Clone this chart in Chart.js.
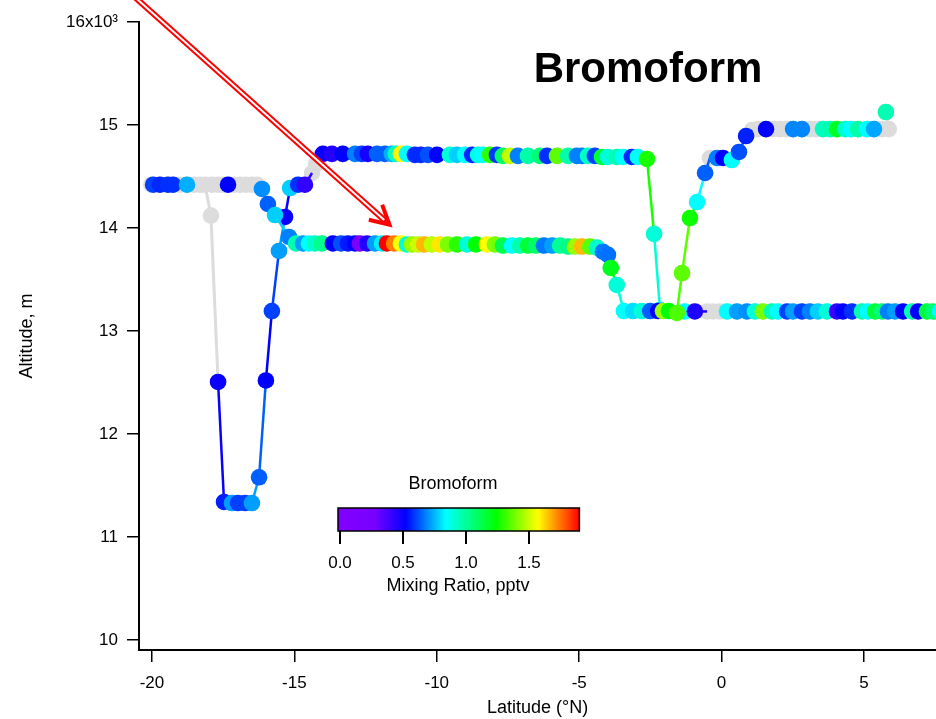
<!DOCTYPE html>
<html>
<head>
<meta charset="utf-8">
<title>Bromoform</title>
<script src="https://cdn.jsdelivr.net/npm/chart.js@4.4.1/dist/chart.umd.min.js"></script>
<style>
  html, body { margin: 0; padding: 0; background: #fff; }
  canvas { display: block; }
</style>
</head>
<body>
<canvas id="chart" width="936" height="719"></canvas>
<script>
const FONT = '"Liberation Sans", Arial, Helvetica, sans-serif';
const GRAY = '#dcdcdc';
const CLEAR = 'rgba(0,0,0,0)';

const xTickValues = [-20, -15, -10, -5, 0, 5];
const yTickValues = [10000, 11000, 12000, 13000, 14000, 15000, 16000];

// flight A: 14.4 km leg, dive to 11.3 km, 14.7 km leg, drop to 13.2 km
const latA = [
  -20.02, -19.96, -19.72, -19.44, -19.26, -19.02, -18.77, -18.53, -18.31, -18.14,
  -17.93, -17.68, -17.47, -17.19, -16.98, -16.73, -16.49, -16.24, -16.00, -15.79,
  -15.54, -15.33, -15.15, -14.87, -14.63, -14.38, -14.24, -14.10,
  -14.00, -13.68, -13.30, -12.87, -12.63, -12.42, -12.10, -11.82, -11.58, -11.44,
  -11.26, -11.05, -10.77, -10.56, -10.31, -9.99, -9.54, -9.29, -9.01, -8.76,
  -8.55, -8.38, -8.13, -7.89, -7.68, -7.43, -7.15, -6.80, -6.38, -6.13,
  -5.78, -5.39, -5.08, -4.90, -4.69, -4.45, -4.20, -3.99, -3.68, -3.46,
  -3.15, -2.94, -2.62,
  -2.37, -2.16,
  -1.29, -0.94, -0.51, -0.30, -0.06, 0.19, 0.54, 0.89, 1.17, 1.45,
  1.77, 1.98, 2.30, 2.51, 2.82, 3.10, 3.38, 3.70, 4.05, 4.26,
  4.58, 4.93, 5.14, 5.39, 5.63, 5.84, 6.09, 6.37, 6.69, 6.90,
  7.21, 7.42, 7.67
];
const altA = [
  14420, 14420, 14420, 14420, 14420, 14420, 14420, 14420, 14420, 14420,
  14120, 12505, 11340, 11330, 11330, 11330, 11330, 11580, 12520, 13194,
  13777, 14107, 14388, 14420, 14420, 14534, 14621, 14690,
  14720, 14720, 14720, 14720, 14720, 14720, 14720, 14720, 14720, 14720,
  14720, 14720, 14710, 14710, 14710, 14710, 14710, 14710, 14710, 14710,
  14710, 14710, 14710, 14710, 14700, 14700, 14700, 14700, 14700, 14700,
  14700, 14700, 14700, 14700, 14700, 14700, 14690, 14690, 14690, 14690,
  14690, 14690, 14670,
  13942, 13204,
  13190, 13190, 13190, 13190, 13190, 13190, 13190, 13190, 13190, 13190,
  13190, 13190, 13190, 13190, 13190, 13190, 13190, 13190, 13190, 13190,
  13190, 13190, 13190, 13190, 13190, 13190, 13190, 13190, 13190, 13190,
  13190, 13190, 13190
];
const bromoA = [
  null, 0.60, 0.57, 0.58, 0.58, null, 0.74, null, null, null,
  null, 0.50, 0.56, 0.72, 0.60, 0.60, 0.72, 0.64, 0.52, 0.60,
  0.72, 0.50, 0.78, 0.58, 0.42, null, null, null,
  0.50, 0.45, 0.52, 0.68, 0.60, 0.48, 0.64, 0.64, 0.74, 0.94,
  1.58, 0.84, 0.57, 0.57, 0.62, 0.52, 0.90, 0.78, 0.84, 0.57,
  0.88, 0.84, 1.30, 0.59, 1.08, 1.49, 0.68, 0.98, 1.06, 0.58,
  1.36, 0.98, 0.68, 0.68, 0.93, 0.60, 1.15, 0.90, 0.96, 0.84,
  0.57, 0.84, 1.27,
  0.90, 0.80,
  0.84, 0.46, null, null, null, 0.84, 0.72, 0.70, 0.90, 1.40,
  0.96, 0.84, 0.60, 0.72, 0.60, 0.68, 0.78, 0.90, 0.40, 0.52,
  0.58, 0.96, 0.84, 1.15, 1.06, 0.68, 0.72, 0.52, 0.96, 0.52,
  1.15, 1.06, 0.84
];

// flight B: 14.4 km, down to 13.8 km leg, 13.2 km, climb to 15 km
const latB = [
  -17.89, -17.68, -17.51, -17.33, -17.12, -16.91, -16.70, -16.49, -16.31,
  -16.14, -15.93, -15.68, -15.19,
  -14.94, -14.70, -14.49, -14.28, -14.03, -13.65, -13.36, -13.12, -12.87, -12.70,
  -12.45, -12.17, -11.92, -11.75, -11.50, -11.26, -11.05, -10.87, -10.66, -10.45,
  -10.17, -9.89, -9.61, -9.29, -8.94, -8.62, -8.24, -7.96, -7.68, -7.36,
  -7.08, -6.80, -6.52, -6.24, -5.95, -5.67, -5.39, -5.15, -4.90, -4.62,
  -4.38, -4.17, -3.99,
  -3.89, -3.68,
  -3.43, -3.11, -2.80, -2.51, -2.23, -2.06, -1.85, -1.57,
  -1.39, -1.11, -0.86, -0.58, -0.41, -0.16, 0.05, 0.36, 0.61, 0.86,
  1.07, 1.28, 1.56, 1.81, 2.05, 2.26, 2.51, 2.82, 3.10, 3.31,
  3.56, 3.81, 4.05, 4.34, 4.54, 4.79, 5.10, 5.35, 5.63, 5.87,
  5.77
];
const altB = [
  14420, 14420, 14420, 14420, 14420, 14420, 14420, 14420, 14420,
  14379, 14233, 14126, 13913,
  13850, 13850, 13850, 13850, 13850, 13850, 13850, 13850, 13850, 13850,
  13850, 13850, 13850, 13850, 13850, 13850, 13840, 13840, 13840, 13840,
  13840, 13840, 13840, 13840, 13840, 13840, 13840, 13840, 13830, 13830,
  13830, 13830, 13830, 13830, 13830, 13830, 13820, 13820, 13820, 13820,
  13810, 13770, 13740,
  13612, 13447,
  13194, 13194, 13194, 13194, 13194, 13194, 13194, 13175,
  13563, 14097, 14252, 14534, 14680, 14680, 14680, 14660, 14738, 14893,
  14950, 14960, 14960, 14960, 14960, 14960, 14960, 14960, 14960, 14960,
  14960, 14960, 14960, 14960, 14960, 14960, 14960, 14960, 14960, 14960,
  15126
];
const bromoB = [
  null, null, null, 0.52, null, null, null, null, null,
  0.70, 0.64, 0.78, 0.68,
  0.96, 0.72, 0.84, 0.93, 1.02, 0.52, 0.62, 0.55, 0.52, 0.22,
  0.45, 0.72, 0.82, 1.90, 1.74, 1.57, 0.90, 1.44, 1.50, 1.66,
  1.49, 1.60, 1.40, 1.29, 0.90, 1.24, 1.57, 1.40, 1.12, 0.84,
  0.96, 1.15, 1.08, 0.67, 0.72, 1.00, 1.03, 1.44, 1.66, 1.36,
  0.93, 0.67, 0.66,
  1.20, 0.90,
  0.84, 0.80, 0.90, 0.64, 0.52, 1.44, 1.24, 1.34,
  1.36, 1.26, 0.84, 0.64, null, 0.68, 0.52, 0.84, 0.62, 0.56,
  null, null, 0.52, null, null, null, 0.69, 0.69, null, null,
  0.94, 0.96, 1.18, 0.92, 0.84, 0.98, 0.84, 0.73, null, null,
  0.96
];

// colour table for the mixing ratio (pptv)
const cmapValues = [0, 0.28, 0.52, 0.84, 1.24, 1.57, 1.90];
const cmapRGB = [[128, 0, 255], [120, 0, 255], [0, 0, 255], [0, 255, 255], [0, 255, 0], [255, 255, 0], [255, 0, 0]];
const barTicks = [0.0, 0.5, 1.0, 1.5];

// arrow annotation, lat / alt of tail and head
const arrowLat = [-21.12, -11.61];
const arrowAlt = [16369, 14019];

function mixColor(v) {
  const n = cmapValues.length;
  v = Math.max(cmapValues[0], Math.min(cmapValues[n - 1], v));
  for (let i = 1; i < n; i++) {
    if (v <= cmapValues[i]) {
      const t = (v - cmapValues[i - 1]) / (cmapValues[i] - cmapValues[i - 1]);
      const a = cmapRGB[i - 1], b = cmapRGB[i];
      const c = a.map((x, k) => Math.round(x + (b[k] - x) * t));
      return 'rgb(' + c.join(',') + ')';
    }
  }
  return 'rgb(255,0,0)';
}

function track(lat, alt) {
  return lat.map((x, i) => ({ x: x, y: alt[i] }));
}

// every sample as a grey dot, with thin grey line where no measurement starts a segment
function greyTrack(lat, alt, br, order) {
  return {
    data: track(lat, alt),
    showLine: true,
    borderWidth: 3,
    borderColor: GRAY,
    pointRadius: 8.3,
    pointBackgroundColor: GRAY,
    pointBorderWidth: 0,
    segment: { borderColor: c => br[c.p0DataIndex] == null ? GRAY : CLEAR },
    order: order
  };
}

// measured samples coloured by mixing ratio
function colourTrack(lat, alt, br, order) {
  return {
    data: track(lat, alt),
    showLine: true,
    borderWidth: 2.5,
    borderColor: CLEAR,
    pointRadius: br.map(v => v == null ? 0 : 8.3),
    pointBackgroundColor: br.map(v => v == null ? CLEAR : mixColor(v)),
    pointBorderWidth: 0,
    segment: { borderColor: c => br[c.p0DataIndex] == null ? CLEAR : mixColor(br[c.p0DataIndex]) },
    order: order
  };
}

const decor = {
  id: 'decor',
  afterDatasetsDraw(chart) {
    const ctx = chart.ctx;
    const xs = chart.scales.x, ys = chart.scales.y;
    ctx.save();

    // title
    ctx.fillStyle = '#000';
    ctx.font = 'bold 42px ' + FONT;
    ctx.textAlign = 'center';
    ctx.textBaseline = 'alphabetic';
    ctx.fillText('Bromoform', 648, 82);

    // colour scale
    const cbX0 = 340, cbPx = 126, cbTop = 508, cbH = 23;
    for (let px = cbX0 - 2; px < cbX0 + 1.9 * cbPx; px++) {
      ctx.fillStyle = mixColor(Math.max(0, (px + 0.5 - cbX0) / cbPx));
      ctx.fillRect(px, cbTop, 1, cbH);
    }
    ctx.strokeStyle = '#000';
    ctx.lineWidth = 1.5;
    ctx.strokeRect(cbX0 - 2, cbTop, 1.9 * cbPx + 2, cbH);
    ctx.lineWidth = 2;
    ctx.beginPath();
    barTicks.forEach(v => {
      const x = cbX0 + v * cbPx;
      ctx.moveTo(x, cbTop + cbH);
      ctx.lineTo(x, cbTop + cbH + 13);
    });
    ctx.stroke();
    ctx.fillStyle = '#000';
    ctx.font = '17px ' + FONT;
    ctx.textBaseline = 'middle';
    barTicks.forEach(v => ctx.fillText(v.toFixed(1), cbX0 + v * cbPx, 563));
    ctx.font = '18px ' + FONT;
    ctx.fillText('Bromoform', 453, 484);
    ctx.fillText('Mixing Ratio, pptv', 458, 586);

    // red arrow
    const x0 = xs.getPixelForValue(arrowLat[0]), y0 = ys.getPixelForValue(arrowAlt[0]);
    const x1 = xs.getPixelForValue(arrowLat[1]), y1 = ys.getPixelForValue(arrowAlt[1]);
    const ang = Math.atan2(y1 - y0, x1 - x0);
    const ca = Math.cos(ang), sa = Math.sin(ang);
    ctx.lineCap = 'butt';
    ctx.strokeStyle = '#ff0000';
    ctx.lineWidth = 6;
    ctx.beginPath();
    ctx.moveTo(x0, y0);
    ctx.lineTo(x1 - 3 * ca, y1 - 3 * sa);
    ctx.stroke();
    ctx.strokeStyle = '#fff';
    ctx.lineWidth = 2;
    ctx.beginPath();
    ctx.moveTo(x0, y0);
    ctx.lineTo(x1 - 9 * ca, y1 - 9 * sa);
    ctx.stroke();
    ctx.strokeStyle = '#ff0000';
    ctx.lineWidth = 4;
    ctx.lineJoin = 'miter';
    ctx.beginPath();
    ctx.moveTo(x1 + 23 * Math.cos(ang + Math.PI - 0.45), y1 + 23 * Math.sin(ang + Math.PI - 0.45));
    ctx.lineTo(x1 - 2 * ca, y1 - 2 * sa);
    ctx.lineTo(x1 + 23 * Math.cos(ang + Math.PI + 0.45), y1 + 23 * Math.sin(ang + Math.PI + 0.45));
    ctx.stroke();

    ctx.restore();
  }
};

const tickFont = { family: FONT, size: 17 };
const titleFont = { family: FONT, size: 18 };

new Chart(document.getElementById('chart').getContext('2d'), {
  type: 'scatter',
  data: {
    datasets: [
      colourTrack(latB, altB, bromoB, 1),
      colourTrack(latA, altA, bromoA, 2),
      greyTrack(latB, altB, bromoB, 3),
      greyTrack(latA, altA, bromoA, 4)
    ]
  },
  options: {
    responsive: false,
    animation: false,
    events: [],
    devicePixelRatio: 1,
    // no extra room for the markers: the plot runs to the canvas edge
    layout: { autoPadding: false, padding: { top: 22, left: 0, right: 0, bottom: 0 } },
    plugins: { legend: { display: false }, tooltip: { enabled: false } },
    scales: {
      x: {
        type: 'linear',
        min: -20.456,
        max: 7.528,
        afterBuildTicks: s => { s.ticks = xTickValues.map(v => ({ value: v })); },
        afterFit: s => { s.height = 69; },
        grid: { drawOnChartArea: false, drawTicks: true, tickLength: 12, color: '#000', lineWidth: 1.5 },
        border: { display: true, color: '#000', width: 2 },
        ticks: {
          color: '#000',
          font: tickFont,
          padding: 11,
          maxRotation: 0,
          autoSkip: false,
          callback: v => String(v)
        },
        title: { display: true, text: 'Latitude (°N)', color: '#000', font: titleFont, padding: { top: 0, bottom: 0 } }
      },
      y: {
        type: 'linear',
        min: 9903,
        max: 16000,
        afterBuildTicks: s => { s.ticks = yTickValues.map(v => ({ value: v })); },
        afterFit: s => { s.width = 139; },
        grid: { drawOnChartArea: false, drawTicks: true, tickLength: 12, color: '#000', lineWidth: 1.5 },
        border: { display: true, color: '#000', width: 2 },
        ticks: {
          color: '#000',
          font: tickFont,
          padding: 9,
          autoSkip: false,
          callback: v => v === 16000 ? '16x10³' : String(v / 1000)
        },
        title: { display: true, text: 'Altitude, m', color: '#000', font: titleFont, padding: { top: 16, bottom: 0 } }
      }
    }
  },
  plugins: [decor]
});
</script>
</body>
</html>
